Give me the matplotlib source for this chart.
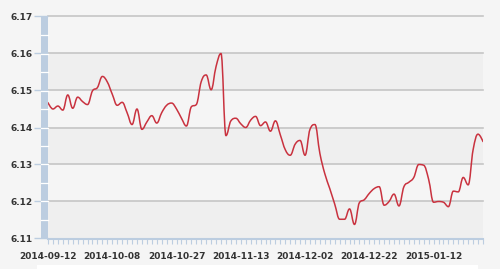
import numpy as np
import matplotlib
matplotlib.use("Agg")
import matplotlib.pyplot as plt
from matplotlib.path import Path
from matplotlib.patches import PathPatch, Rectangle

# daily USD/CNY quotes, one per trading day
rates = [
    6.1467, 6.1450, 6.1458, 6.1447, 6.1488, 6.1452, 6.1482, 6.1470, 6.1462, 6.1499,
    6.1508, 6.1538, 6.1523, 6.1490, 6.1460, 6.1468, 6.1440, 6.1408, 6.1450, 6.1395,
    6.1415, 6.1432, 6.1412, 6.1440, 6.1460, 6.1466, 6.1450, 6.1425, 6.1404, 6.1456,
    6.1462, 6.1524, 6.1542, 6.1502, 6.1565, 6.1600, 6.1378, 6.1418, 6.1425, 6.1410,
    6.1400, 6.1420, 6.1430, 6.1405, 6.1415, 6.1390, 6.1418, 6.1380, 6.1340, 6.1325,
    6.1355, 6.1365, 6.1325, 6.1395, 6.1408, 6.1330, 6.1275, 6.1235, 6.1193, 6.1152,
    6.1152, 6.1180, 6.1138, 6.1197, 6.1205, 6.1222, 6.1235, 6.1240, 6.1190, 6.1200,
    6.1220, 6.1188, 6.1240, 6.1252, 6.1265, 6.1300, 6.1298, 6.1260, 6.1198, 6.1200,
    6.1198, 6.1186, 6.1228, 6.1226, 6.1265, 6.1245, 6.1340, 6.1382, 6.1362,
]
tick_labels = ["2014-09-12", "2014-10-08", "2014-10-27", "2014-11-13",
               "2014-12-02", "2014-12-22", "2015-01-12"]
tick_step = 13
y_ticks = [6.11, 6.12, 6.13, 6.14, 6.15, 6.16, 6.17]

BG = "#f5f5f5"
BAND = "#efefef"
GRID = "#c6c6c6"
AXBLUE = "#bccde0"
TXT = "#333333"
LINE = "#c9323f"


def spline_path(xs, ys, smoothing=1.5):
    # bezier spline in the style of a highcharts "spline" series
    denom = smoothing + 1
    verts = [(xs[0], ys[0])]
    codes = [Path.MOVETO]
    n = len(xs)
    ctrl = []
    for i in range(n):
        if i == 0 or i == n - 1:
            ctrl.append(((xs[i], ys[i]), (xs[i], ys[i])))
            continue
        lx = (smoothing * xs[i] + xs[i - 1]) / denom
        ly = (smoothing * ys[i] + ys[i - 1]) / denom
        rx = (smoothing * xs[i] + xs[i + 1]) / denom
        ry = (smoothing * ys[i] + ys[i + 1]) / denom
        corr = (ry - ly) * (rx - xs[i]) / (rx - lx) + ys[i] - ry
        ly += corr
        ry += corr
        if ly > max(ys[i - 1], ys[i]):
            ly = max(ys[i - 1], ys[i]); ry = 2 * ys[i] - ly
        elif ly < min(ys[i - 1], ys[i]):
            ly = min(ys[i - 1], ys[i]); ry = 2 * ys[i] - ly
        if ry > max(ys[i + 1], ys[i]):
            ry = max(ys[i + 1], ys[i]); ly = 2 * ys[i] - ry
        elif ry < min(ys[i + 1], ys[i]):
            ry = min(ys[i + 1], ys[i]); ly = 2 * ys[i] - ry
        ctrl.append(((lx, ly), (rx, ry)))
    for i in range(1, n):
        verts += [ctrl[i - 1][1], ctrl[i][0], (xs[i], ys[i])]
        codes += [Path.CURVE4] * 3
    return Path(verts, codes)


fig = plt.figure(figsize=(5.0, 2.69), dpi=100, facecolor=BG)
W, H = 500, 269
x0, x1, ytop, ybot = 48, 483, 16.5, 238.5
ax = fig.add_axes([x0 / W, 1 - ybot / H, (x1 - x0) / W, (ybot - ytop) / H])
ax.set_facecolor(BG)

x = np.arange(len(rates))
ax.set_xlim(0, len(rates) - 1)
ax.set_ylim(6.11, 6.17)

# alternating plot bands
for lo in [6.11, 6.13, 6.15]:
    ax.axhspan(lo, lo + 0.01, color=BAND, lw=0, zorder=0)

for v in y_ticks[1:]:
    ax.axhline(v, color=GRID, lw=1.2, zorder=1, clip_on=False)

ax.add_patch(PathPatch(spline_path(x, rates), fill=False, edgecolor=LINE,
                       lw=1.1, zorder=3, capstyle="round", joinstyle="round"))

for s in ax.spines.values():
    s.set_visible(False)
ax.spines["bottom"].set_visible(True)
ax.spines["bottom"].set_color(AXBLUE)
ax.spines["bottom"].set_linewidth(1.5)

# y ticks run from x=34 to the axis; the blue bar covers the inner part
ax.set_yticks(y_ticks)
ax.set_yticklabels([f"{v:.2f}" for v in y_ticks])
ax.tick_params(axis="y", length=10, width=1.0, color=AXBLUE, pad=1,
               labelsize=6.5, labelcolor=TXT)
for t in ax.get_yticklabels():
    t.set_fontweight("bold")

ax.set_xticks(x, minor=True)
ax.set_xticks(x[::tick_step])
ax.set_xticklabels(tick_labels)
ax.tick_params(axis="x", which="minor", length=3.5, width=0.8, color=AXBLUE)
ax.tick_params(axis="x", which="major", length=3.5, width=0.8, color=AXBLUE,
               labelsize=6.5, labelcolor=TXT, pad=6)
for t in ax.get_xticklabels():
    t.set_fontweight("bold")

# blue bar down the left edge of the plot, split every half step
bar_w = 7 / (x1 - x0) * (len(rates) - 1)
ax.add_patch(Rectangle((-bar_w, 6.11), bar_w, 0.06,
                       color=AXBLUE, lw=0, clip_on=False, zorder=2))
for v in np.arange(6.115, 6.17, 0.005):
    ax.plot([-bar_w, 0], [v, v], color="white",
            lw=0.9, clip_on=False, zorder=2.5)

# white strip at the very bottom
fig.patches.append(Rectangle((37 / W, 0), (478 - 37) / W, 4 / H,
                             transform=fig.transFigure, color="white", lw=0))

fig.savefig("out.png", dpi=100, facecolor=BG)
